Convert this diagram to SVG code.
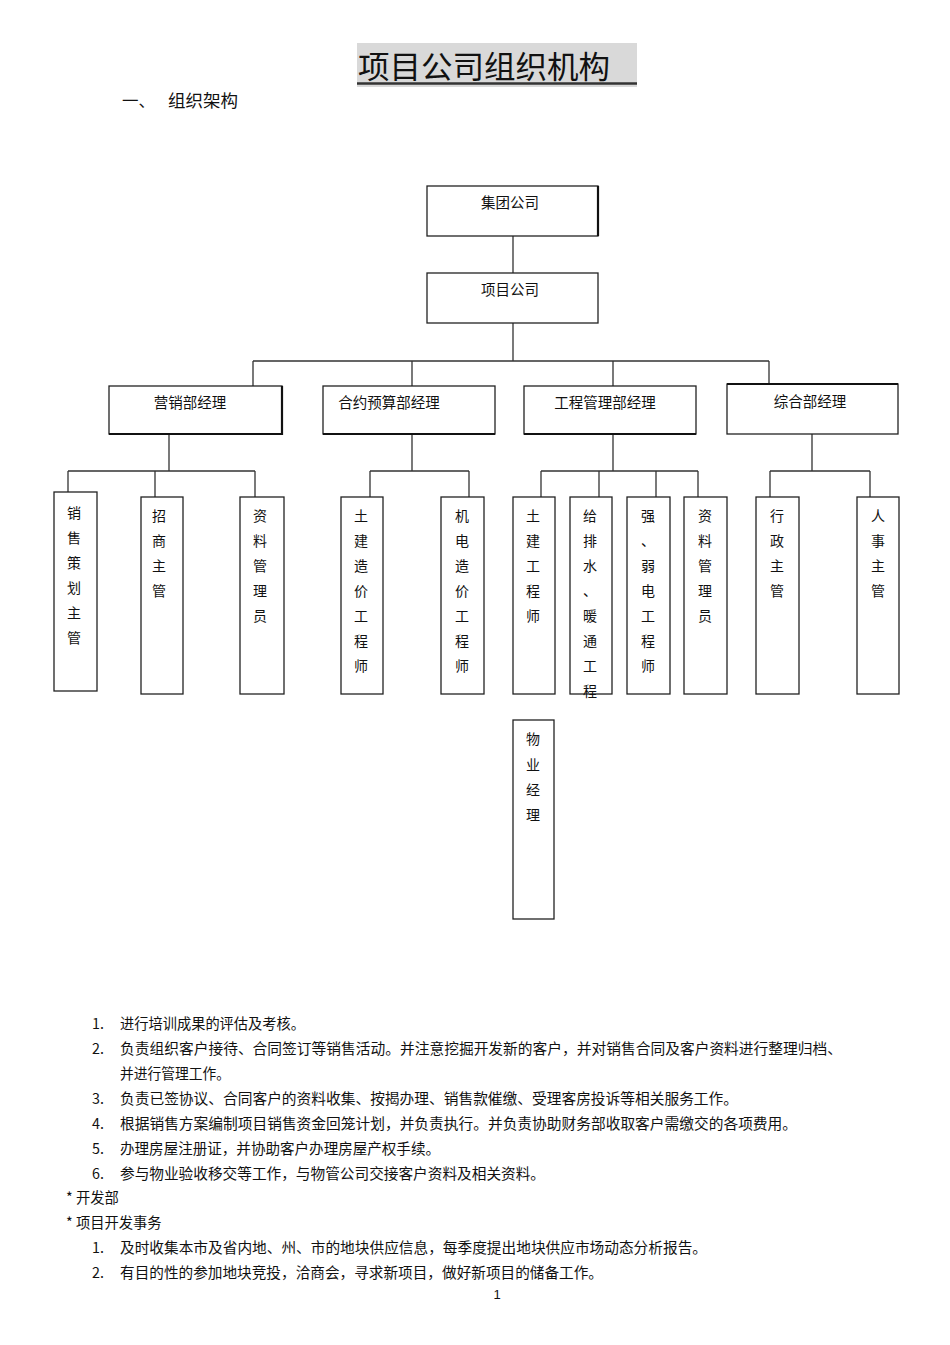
<svg xmlns="http://www.w3.org/2000/svg" width="950" height="1345" viewBox="0 0 950 1345">
<style>
text{font-family:"Noto Sans CJK SC","Liberation Sans",sans-serif;fill:#111;}
.box{fill:#fff;stroke:#222;stroke-width:1.3;}
.edge{fill:none;stroke:#111;stroke-width:2.2;}
.c{fill:none;stroke:#333;stroke-width:1.3;}
.t{font-size:14.5px;text-anchor:middle;}
.v{font-size:14px;text-anchor:middle;}
.p{font-size:14.3px;}
</style>
<rect width="950" height="1345" fill="#fff"/>
<g id="title">
<rect x="357" y="43" width="280" height="44" fill="#d9d9d9"/>
<text x="358" y="78" style="font-size:31px" textLength="252" lengthAdjust="spacingAndGlyphs">项目公司组织机构</text>
<line x1="357" y1="83.5" x2="637" y2="83.5" stroke="#333" stroke-width="2.4"/>
</g>
<g id="subtitle">
<text x="122" y="107" style="font-size:16.5px">一、</text>
<text x="168" y="107" style="font-size:17px" textLength="70" lengthAdjust="spacingAndGlyphs">组织架构</text>
</g>
<g id="connectors">
<path class="c" d="M513 236V273M513 323V361M253 361H769M253 361V386M412 361V386M613 361V386M769 361V384"/>
<path class="c" d="M169 434V471M68 471H255M68 471V492M155 471V497M255 471V497"/>
<path class="c" d="M412 434V471M370 471H469M370 471V497M469 471V497"/>
<path class="c" d="M613 434V471M541 471H698M541 471V497M599 471V497M656 471V497M698 471V497"/>
<path class="c" d="M812 434V471M770 471H870M770 471V497M870 471V497"/>
</g>
<g id="n-jituan">
<rect class="box" x="427" y="186" width="171" height="50"/>
<path class="edge" d="M598 186V236"/>
<text class="t" x="510" y="208">集团公司</text>
</g>
<g id="n-xiangmu">
<rect class="box" x="427" y="273" width="171" height="50"/>
<text class="t" x="510" y="295">项目公司</text>
</g>
<g id="n-yingxiao">
<rect class="box" x="109" y="386" width="173" height="48"/>
<path class="edge" d="M109 434H282V386"/>
<text class="t" x="190" y="408">营销部经理</text>
</g>
<g id="n-heyue">
<rect class="box" x="323" y="386" width="172" height="48"/>
<path class="edge" d="M323 434H495"/>
<text class="t" x="389" y="408">合约预算部经理</text>
</g>
<g id="n-gongcheng">
<rect class="box" x="524" y="386" width="172" height="48"/>
<path class="edge" d="M524 434H696"/>
<text class="t" x="605" y="408">工程管理部经理</text>
</g>
<g id="n-zonghe">
<rect class="box" x="727" y="384" width="171" height="50"/>
<path class="edge" d="M727 384H898"/>
<text class="t" x="810" y="407">综合部经理</text>
</g>
<g id="n-xiaoshou">
<rect class="box" x="54" y="492" width="43" height="199"/>
<text class="v" x="74" y="518">销</text><text class="v" x="74" y="543">售</text><text class="v" x="74" y="568">策</text><text class="v" x="74" y="593">划</text><text class="v" x="74" y="618">主</text><text class="v" x="74" y="643">管</text>
</g>
<g id="n-zhaoshang">
<rect class="box" x="141" y="497" width="42" height="197"/>
<text class="v" x="159" y="521">招</text><text class="v" x="159" y="546">商</text><text class="v" x="159" y="571">主</text><text class="v" x="159" y="596">管</text>
</g>
<g id="n-ziliao1">
<rect class="box" x="240" y="497" width="44" height="197"/>
<text class="v" x="260" y="521">资</text><text class="v" x="260" y="546">料</text><text class="v" x="260" y="571">管</text><text class="v" x="260" y="596">理</text><text class="v" x="260" y="621">员</text>
</g>
<g id="n-tujianzaojia">
<rect class="box" x="341" y="497" width="42" height="197"/>
<text class="v" x="361" y="521">土</text><text class="v" x="361" y="546">建</text><text class="v" x="361" y="571">造</text><text class="v" x="361" y="596">价</text><text class="v" x="361" y="621">工</text><text class="v" x="361" y="646">程</text><text class="v" x="361" y="671">师</text>
</g>
<g id="n-jidianzaojia">
<rect class="box" x="441" y="497" width="43" height="197"/>
<text class="v" x="462" y="521">机</text><text class="v" x="462" y="546">电</text><text class="v" x="462" y="571">造</text><text class="v" x="462" y="596">价</text><text class="v" x="462" y="621">工</text><text class="v" x="462" y="646">程</text><text class="v" x="462" y="671">师</text>
</g>
<g id="n-tujian">
<rect class="box" x="513" y="497" width="42" height="197"/>
<text class="v" x="533" y="521">土</text><text class="v" x="533" y="546">建</text><text class="v" x="533" y="571">工</text><text class="v" x="533" y="596">程</text><text class="v" x="533" y="621">师</text>
</g>
<g id="n-geipaishui">
<rect class="box" x="570" y="497" width="42" height="197"/>
<text class="v" x="590" y="521">给</text><text class="v" x="590" y="546">排</text><text class="v" x="590" y="571">水</text><text class="v" x="590" y="596">、</text><text class="v" x="590" y="621">暖</text><text class="v" x="590" y="646">通</text><text class="v" x="590" y="671">工</text><text class="v" x="590" y="696">程</text>
</g>
<g id="n-qiangruodian">
<rect class="box" x="627" y="497" width="43" height="197"/>
<text class="v" x="648" y="521">强</text><text class="v" x="648" y="546">、</text><text class="v" x="648" y="571">弱</text><text class="v" x="648" y="596">电</text><text class="v" x="648" y="621">工</text><text class="v" x="648" y="646">程</text><text class="v" x="648" y="671">师</text>
</g>
<g id="n-ziliao2">
<rect class="box" x="684" y="497" width="43" height="197"/>
<text class="v" x="705" y="521">资</text><text class="v" x="705" y="546">料</text><text class="v" x="705" y="571">管</text><text class="v" x="705" y="596">理</text><text class="v" x="705" y="621">员</text>
</g>
<g id="n-xingzheng">
<rect class="box" x="756" y="497" width="43" height="197"/>
<text class="v" x="777" y="521">行</text><text class="v" x="777" y="546">政</text><text class="v" x="777" y="571">主</text><text class="v" x="777" y="596">管</text>
</g>
<g id="n-renshi">
<rect class="box" x="857" y="497" width="42" height="197"/>
<text class="v" x="878" y="521">人</text><text class="v" x="878" y="546">事</text><text class="v" x="878" y="571">主</text><text class="v" x="878" y="596">管</text>
</g>
<g id="n-wuye">
<rect class="box" x="513" y="720" width="41" height="199"/>
<text class="v" x="533" y="744">物</text><text class="v" x="533" y="770">业</text><text class="v" x="533" y="795">经</text><text class="v" x="533" y="820">理</text>
</g>
<g id="notes">
<text class="p" x="92" y="1029">1.</text><text class="p" x="120" y="1029" textLength="185" lengthAdjust="spacingAndGlyphs">进行培训成果的评估及考核。</text>
<text class="p" x="92" y="1054">2.</text><text class="p" x="120" y="1054" textLength="722" lengthAdjust="spacingAndGlyphs">负责组织客户接待、合同签订等销售活动。并注意挖掘开发新的客户，并对销售合同及客户资料进行整理归档、</text>
<text class="p" x="120" y="1079" textLength="110" lengthAdjust="spacingAndGlyphs">并进行管理工作。</text>
<text class="p" x="92" y="1104">3.</text><text class="p" x="120" y="1104" textLength="618" lengthAdjust="spacingAndGlyphs">负责已签协议、合同客户的资料收集、按揭办理、销售款催缴、受理客房投诉等相关服务工作。</text>
<text class="p" x="92" y="1129">4.</text><text class="p" x="120" y="1129" textLength="677" lengthAdjust="spacingAndGlyphs">根据销售方案编制项目销售资金回笼计划，并负责执行。并负责协助财务部收取客户需缴交的各项费用。</text>
<text class="p" x="92" y="1154">5.</text><text class="p" x="120" y="1154" textLength="320" lengthAdjust="spacingAndGlyphs">办理房屋注册证，并协助客户办理房屋产权手续。</text>
<text class="p" x="92" y="1179">6.</text><text class="p" x="120" y="1179" textLength="425" lengthAdjust="spacingAndGlyphs">参与物业验收移交等工作，与物管公司交接客户资料及相关资料。</text>
<text class="p" x="66" y="1203">* 开发部</text>
<text class="p" x="66" y="1228">* 项目开发事务</text>
<text class="p" x="92" y="1253">1.</text><text class="p" x="120" y="1253" textLength="587" lengthAdjust="spacingAndGlyphs">及时收集本市及省内地、州、市的地块供应信息，每季度提出地块供应市场动态分析报告。</text>
<text class="p" x="92" y="1278">2.</text><text class="p" x="120" y="1278" textLength="483" lengthAdjust="spacingAndGlyphs">有目的性的参加地块竞投，洽商会，寻求新项目，做好新项目的储备工作。</text>
<text x="497" y="1299" style="font-size:13px;font-family:'Liberation Sans',sans-serif" text-anchor="middle">1</text>
</g>
</svg>
